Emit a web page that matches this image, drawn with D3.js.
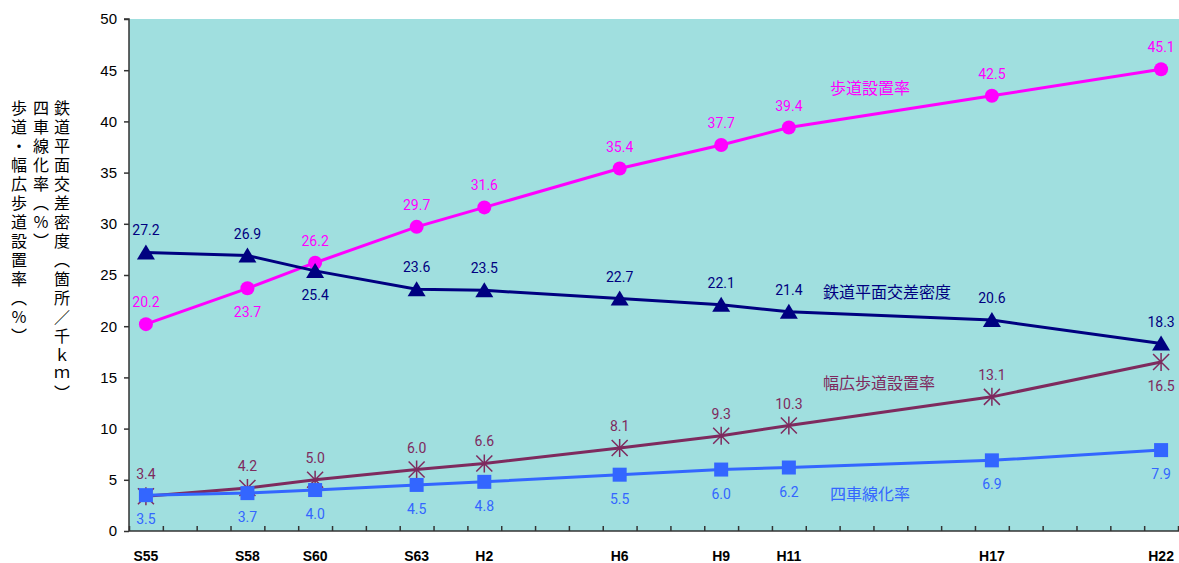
<!DOCTYPE html>
<html>
<head>
<meta charset="utf-8">
<script src="https://cdn.jsdelivr.net/npm/d3@7"></script>
<style>
  body { margin: 0; background: #fff; }
  svg { display: block; }
  .val { font-family: Roboto, "Liberation Sans", sans-serif; font-size: 14px; }
  .jp { font-family: "Noto Sans CJK JP", sans-serif; }
</style>
</head>
<body>
<svg width="1179" height="563"></svg>
<script>
// 年度（西暦）と表示ラベル
const years = [1980, 1983, 1985, 1988, 1990, 1994, 1997, 1999, 2005, 2010]
const yearLabels = ['S55', 'S58', 'S60', 'S63', 'H2', 'H6', 'H9', 'H11', 'H17', 'H22']

const hodou = [20.2, 23.7, 26.2, 29.7, 31.6, 35.4, 37.7, 39.4, 42.5, 45.1]
const tetsudo = [27.2, 26.9, 25.4, 23.6, 23.5, 22.7, 22.1, 21.4, 20.6, 18.3]
const habahiro = [3.4, 4.2, 5.0, 6.0, 6.6, 8.1, 9.3, 10.3, 13.1, 16.5]
const yonsha = [3.5, 3.7, 4.0, 4.5, 4.8, 5.5, 6.0, 6.2, 6.9, 7.9]

const yTicks = [0, 5, 10, 15, 20, 25, 30, 35, 40, 45, 50]

const series = [
  { name: '歩道設置率', values: hodou, color: '#ff00ff', marker: 'circle',
    below: [false, true, false, false, false, false, false, false, false, false], lx: 830, ly: 94 },
  { name: '鉄道平面交差密度', values: tetsudo, color: '#000080', marker: 'triangle',
    below: [false, false, true, false, false, false, false, false, false, false], lx: 823, ly: 298 },
  { name: '幅広歩道設置率', values: habahiro, color: '#7e2a5e', marker: 'asterisk',
    below: [false, false, false, false, false, false, false, false, false, true], lx: 823, ly: 389 },
  { name: '四車線化率', values: yonsha, color: '#3366ff', marker: 'square',
    below: years.map(() => true), lx: 830, ly: 500 }
]

const svg = d3.select('svg')
const plotLeft = 129, plotRight = 1178, plotTop = 19, plotBottom = 531

const x = d3.scaleLinear().domain([1979.5, 2010.5]).range([plotLeft, plotRight])
const y = d3.scaleLinear().domain([0, 50]).range([plotBottom, plotTop])

svg.append('rect')
  .attr('x', plotLeft).attr('y', plotTop)
  .attr('width', plotRight - plotLeft + 1).attr('height', plotBottom - plotTop)
  .attr('fill', '#a0dfdf')

// y軸
const yAxis = svg.append('g')
  .attr('transform', `translate(${plotLeft},0)`)
  .call(d3.axisLeft(y).tickValues(yTicks).tickSize(5).tickPadding(7))
yAxis.selectAll('text')
  .attr('font-family', '"Liberation Sans", Arial, sans-serif')
  .attr('font-size', 15).attr('fill', '#000')
yAxis.selectAll('path, line').attr('stroke', '#333').attr('stroke-width', 1.5)
yAxis.select('.domain').attr('d', `M-5,${plotTop}H0V${plotBottom}`)

// x軸（目盛は年の境目、内向き）
const bounds = d3.range(1979.5, 2011, 1)
const xAxis = svg.append('g')
  .attr('transform', `translate(0,${plotBottom})`)
  .call(d3.axisBottom(x).tickValues(bounds).tickSize(-5).tickFormat(''))
xAxis.selectAll('path, line').attr('stroke', '#333').attr('stroke-width', 1.5)
xAxis.select('.domain').attr('d', `M${plotLeft},0H${plotRight + 1}`)

svg.append('g').selectAll('text')
  .data(years)
  .join('text')
  .attr('x', d => x(d))
  .attr('y', 561)
  .attr('text-anchor', 'middle')
  .attr('font-family', '"Liberation Sans", Arial, sans-serif')
  .attr('font-weight', 'bold')
  .attr('font-size', 14)
  .text((d, i) => yearLabels[i])

// 系列
const line = d3.line().x((d, i) => x(years[i])).y(d => y(d))

series.forEach(s => {
  const g = svg.append('g')
  g.append('path')
    .attr('d', line(s.values))
    .attr('fill', 'none')
    .attr('stroke', s.color)
    .attr('stroke-width', 3)

  const pts = g.selectAll('g.pt')
    .data(s.values)
    .join('g')
    .attr('transform', (d, i) => `translate(${x(years[i])},${y(d)})`)

  if (s.marker === 'circle') {
    pts.append('circle').attr('r', 7).attr('fill', s.color)
  } else if (s.marker === 'triangle') {
    pts.append('path').attr('d', 'M0,-8L9,7H-9Z').attr('fill', s.color)
  } else if (s.marker === 'square') {
    pts.append('rect').attr('x', -7).attr('y', -7).attr('width', 14).attr('height', 14).attr('fill', s.color)
  } else {
    pts.append('path')
      .attr('d', 'M-8,-8L8,8M-8,8L8,-8M0,-9V9')
      .attr('stroke', s.color).attr('stroke-width', 1.5).attr('fill', 'none')
  }

  g.selectAll('text.val')
    .data(s.values)
    .join('text')
    .attr('class', 'val')
    .attr('x', (d, i) => x(years[i]))
    .attr('y', (d, i) => y(d) + (s.below[i] ? 29 : -17))
    .attr('text-anchor', 'middle')
    .attr('fill', s.color)
    .text(d => d.toFixed(1))

  svg.append('text')
    .attr('class', 'jp')
    .attr('x', s.lx).attr('y', s.ly)
    .attr('font-size', 16)
    .attr('fill', s.color)
    .text(s.name)
})

// 縦書きの軸タイトル
const titles = ['鉄道平面交差密度（箇所／千ｋｍ）', '四車線化率（％）', '歩道・幅広歩道設置率（％）']
const titleX = [62, 41, 19]
svg.append('g').selectAll('text')
  .data(titles)
  .join('text')
  .attr('class', 'jp')
  .attr('x', (d, i) => titleX[i])
  .attr('y', 100)
  .attr('font-size', 16)
  .style('writing-mode', 'vertical-rl')
  .style('text-orientation', 'upright')
  .style('letter-spacing', '3px')
  .attr('fill', '#000')
  .text(d => d)
</script>
</body>
</html>
